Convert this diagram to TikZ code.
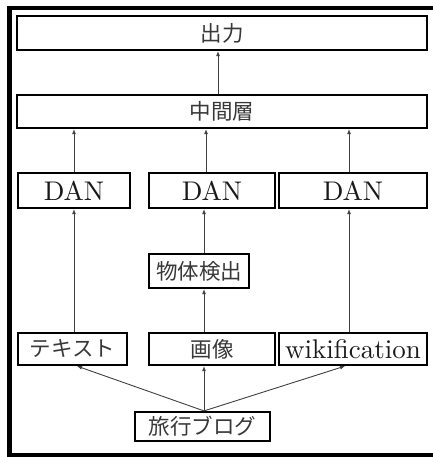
\documentclass[tikz,border=0pt]{standalone}
\usepackage{fontspec}
\newfontfamily\jp{Noto Sans CJK JP}
\newfontfamily\lmten{lmroman10-regular.otf}
\usetikzlibrary{arrows.meta}
\begin{document}
\begin{tikzpicture}[x=1pt,y=-1pt,
  blk/.style={draw=black, line width=2.2pt, inner sep=0pt, text=black!90},
  jpt/.style={font=\jp\fontsize{21.5}{24}\selectfont, text=black!78},
  ent/.style={font=\lmten\fontsize{27}{30}\selectfont},
  arr/.style={draw=black!75, line width=0.9pt, -{Latex[length=5pt,width=4pt]}}]
\useasboundingbox (0,0) rectangle (432,457);
\draw[line width=4.6pt] (9.6,8.2) rectangle (450,455);
% nodes
\node[blk,jpt,minimum width=410pt,minimum height=34pt] (out) at (222,33) {出力};
\node[blk,jpt,minimum width=410pt,minimum height=33pt] (mid) at (222,111.5) {中間層};
\node[blk,ent,minimum width=112pt,minimum height=35pt] (dan1) at (74,190.5) {DAN};
\node[blk,ent,minimum width=126pt,minimum height=35pt] (dan2) at (212,190.5) {DAN};
\node[blk,ent,minimum width=148pt,minimum height=35pt] (dan3) at (353,190.5) {DAN};
\node[blk,jpt,minimum width=100pt,minimum height=34pt] (det) at (199,271) {物体検出};
\node[blk,jpt,minimum width=109pt,minimum height=32pt] (txt) at (72.5,349) {テキスト};
\node[blk,jpt,minimum width=126pt,minimum height=32pt] (img) at (212,349) {画像};
\node[blk,ent,minimum width=148pt,minimum height=32pt] (wiki) at (353,349) {wikification};
\node[blk,jpt,minimum width=135pt,minimum height=29pt] (blog) at (202.5,426.5) {旅行ブログ};
% column coordinates
\coordinate (c0) at (218,0);
\coordinate (c1) at (74,0);
\coordinate (c2) at (204,0);
\coordinate (c2b) at (206,0);
\coordinate (c3) at (349,0);
% connectors
\draw[arr] (mid.north -| c0) -- (out.south -| c0);
\draw[arr] (dan1.north -| c1) -- (mid.south -| c1);
\draw[arr] (dan2.north -| c2b) -- (mid.south -| c2b);
\draw[arr] (dan3.north -| c3) -- (mid.south -| c3);
\draw[arr] (txt.north -| c1) -- (dan1.south -| c1);
\draw[arr] (det.north -| c2) -- (dan2.south -| c2);
\draw[arr] (img.north -| c2) -- (det.south -| c2);
\draw[arr] (wiki.north -| c3) -- (dan3.south -| c3);
\coordinate (bt) at (blog.north -| c2);
\draw[arr] (bt) -- ([xshift=4.5pt]txt.south);
\draw[arr] (bt) -- (img.south -| c2);
\draw[arr] (bt) -- ([xshift=-8pt]wiki.south);
\end{tikzpicture}
\end{document}
